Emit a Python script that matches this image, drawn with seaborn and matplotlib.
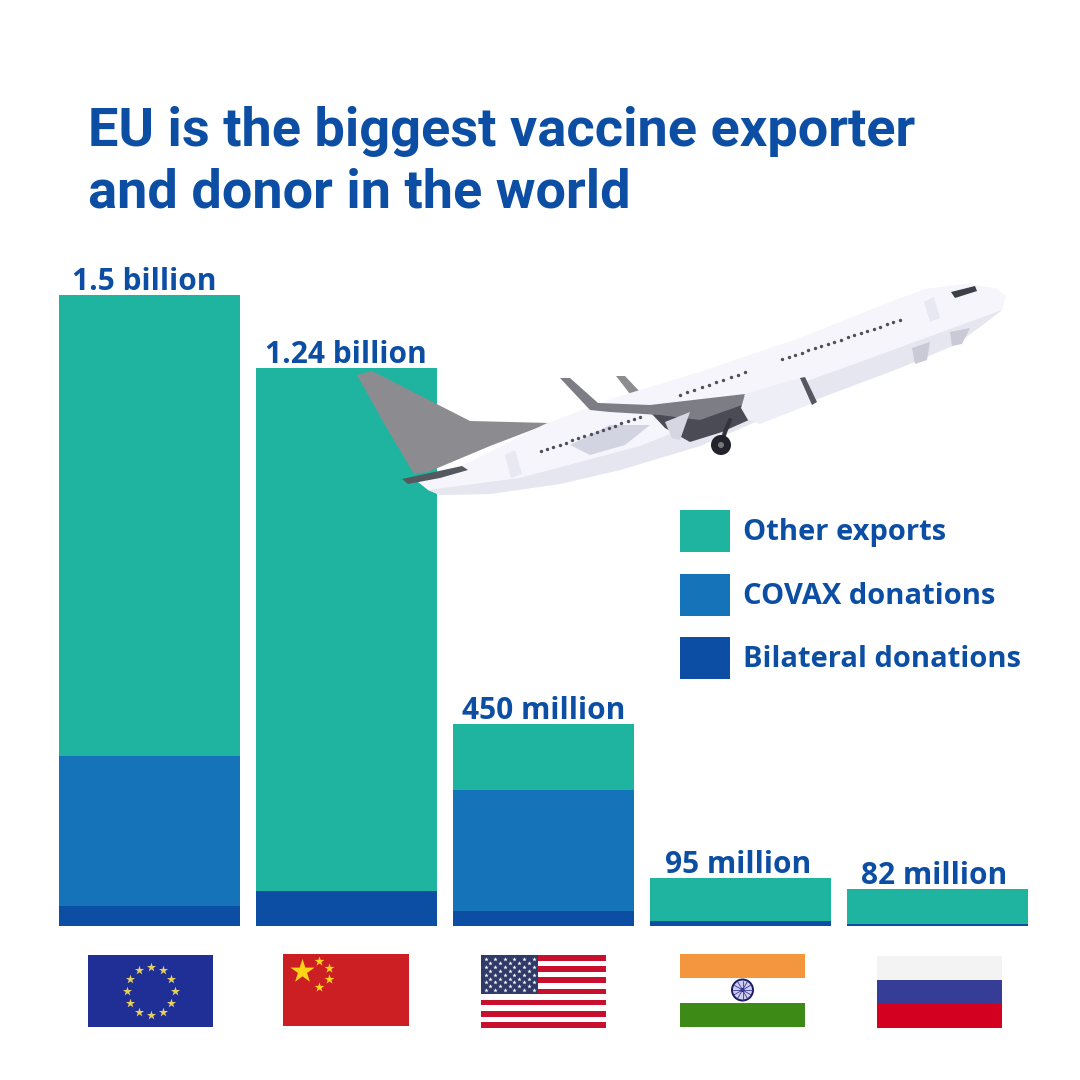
import numpy as np
import matplotlib
matplotlib.use("Agg")
import matplotlib.pyplot as plt
from matplotlib.patches import Patch, Polygon, Rectangle, Circle
import seaborn as sns

# ---------- data (millions of doses) ----------
countries = ["EU", "China", "USA", "India", "Russia"]
bilateral = [48, 83, 36, 12, 5]
covax = [357, 0, 288, 0, 0]
other_exports = [1095, 1243, 156, 102, 83]
value_labels = ["1.5 billion", "1.24 billion", "450 million", "95 million", "82 million"]
legend_labels = ["Other exports", "COVAX donations", "Bilateral donations"]
title_lines = ["EU is the biggest vaccine exporter", "and donor in the world"]

C_OTHER, C_COVAX, C_BILAT = "#1fb4a0", "#1573ba", "#0c4ea3"
TXT = "#0c4ea3"
FONT = "Roboto"
FONT2 = "Open Sans"

sns.set_theme(style="white")
plt.rcParams["font.family"] = [FONT, "DejaVu Sans"]
plt.rcParams["font.weight"] = "bold"

W = H = 1080
fig = plt.figure(figsize=(10.8, 10.8), dpi=100, facecolor="white")

# ---------- bars ----------
ax = fig.add_axes([51 / W, (H - 926) / H, 985 / W, 726 / H])
bil = np.array(bilateral, float)
cov = np.array(covax, float)
oth = np.array(other_exports, float)
bar_kw = dict(saturation=1, width=0.919, linewidth=0, ax=ax)
sns.barplot(x=countries, y=bil, color=C_BILAT, **bar_kw)
sns.barplot(x=countries, y=cov, bottom=bil, color=C_COVAX, **bar_kw)
sns.barplot(x=countries, y=oth, bottom=bil + cov, color=C_OTHER, **bar_kw)
ax.set_xlim(-0.5, 4.5)
ax.set_ylim(0, 1726)
ax.axis("off")

label_shift = [-5, -1, 0, -2, -3]
for i, (t, lab) in enumerate(zip(bil + cov + oth, value_labels)):
    ax.annotate(lab, (i, t), xytext=(label_shift[i] * 0.72, 3.6), textcoords="offset points",
                ha="center", va="baseline", fontsize=21.5, fontweight="bold", color=TXT,
                family=[FONT2, "DejaVu Sans"])

handles = [Patch(color=c, linewidth=0) for c in (C_OTHER, C_COVAX, C_BILAT)]
fs = 20.3
lfs = 21
px = lfs / 0.72
hh = 1.49 * 28.2 / 29.17  # swatch height of 42 px at this font size
ax.legend(handles, legend_labels, loc="upper left", bbox_to_anchor=(680 / W, (H - 510) / H),
          bbox_transform=fig.transFigure, frameon=False, labelcolor=TXT,
          prop={"family": [FONT2, "DejaVu Sans"], "weight": "bold", "size": lfs},
          handlelength=50 / px, handleheight=(42 / px - 0.245) / 0.65, labelspacing=(63.5 - 42) / px,
          handletextpad=13 / px, borderpad=0, borderaxespad=0)

# ---------- decoration overlay in pixel coordinates ----------
ov = fig.add_axes([0, 0, 1, 1], zorder=5)
ov.set_xlim(0, W)
ov.set_ylim(H, 0)
ov.axis("off")
ov.patch.set_alpha(0)

for i, line in enumerate(title_lines):
    ov.text(88, 146 + i * 61, line, fontsize=39, fontweight="bold", color=TXT, ha="left", va="baseline")


def poly(pts, c, z=6, **k):
    ov.add_patch(Polygon(pts, closed=True, facecolor=c, edgecolor="none", zorder=z, **k))


def rect(x0, y0, x1, y1, c, z=6):
    ov.add_patch(Rectangle((x0, y0), x1 - x0, y1 - y0, facecolor=c, edgecolor="none", zorder=z))


# EU flag
rect(88, 955, 213, 1027, "#1f2f95")
a = np.deg2rad(np.arange(0, 360, 30))
ov.scatter(150.5 + 24 * np.cos(a), 991 + 24 * np.sin(a), marker="*", s=48, c="#e8d060", linewidths=0, zorder=7)
# China flag
rect(283, 954, 409, 1026, "#cb1f23")
ov.scatter([302], [971], marker="*", s=330, c="#fcd517", linewidths=0, zorder=7)
ov.scatter([319, 329, 329, 319], [961, 968, 979, 987], marker="*", s=55, c="#fcd517", linewidths=0, zorder=7)
# US flag
for k in range(7):
    rect(481, 955 + k * 11.2, 606, 955 + k * 11.2 + 5.6, "#c8102e")
rect(481, 955, 538, 994, "#2f3a68", z=7)
xs, ys = [], []
for r in range(9):
    n = 6 if r % 2 == 0 else 5
    for c in range(n):
        xs.append(485.5 + c * 9.6 + (0 if r % 2 == 0 else 4.8))
        ys.append(959 + r * 3.9)
ov.scatter(xs, ys, marker="*", s=11, c="white", linewidths=0, zorder=8)
# India flag
rect(680, 954, 805, 978, "#f4963e")
rect(680, 1003, 805, 1027, "#3e8a17")
ov.add_patch(Circle((742.5, 990), 10.5, facecolor="#cfcdf0", edgecolor="#1b1b60", linewidth=1.4, zorder=7))
ov.add_patch(Circle((742.5, 990), 2, facecolor="#1b1b60", edgecolor="none", zorder=8))
for t in np.deg2rad(np.arange(0, 360, 30)):
    ov.plot([742.5, 742.5 + 9.5 * np.cos(t)], [990, 990 + 9.5 * np.sin(t)], color="#3a3a9a", lw=0.6, zorder=8)
# Russia flag
rect(877, 956, 1002, 980, "#f3f3f3")
rect(877, 980, 1002, 1004, "#353d96")
rect(877, 1004, 1002, 1028, "#d4001f")

# Aeroplane
GREY = "#8c8c90"
poly([(357, 375), (372, 371), (470, 421), (550, 423), (490, 446), (428, 472), (414, 474), (385, 425)], GREY, 6)
poly([(616, 376), (625, 376), (640, 392), (630, 394)], GREY, 6)
# fuselage
poly([(418, 482), (470, 462), (545, 424), (620, 396), (700, 372), (800, 338), (880, 306), (925, 289),
      (965, 284), (995, 288), (1006, 296), (1002, 310), (980, 327), (955, 345), (900, 368), (815, 400),
      (760, 420), (700, 446), (620, 470), (560, 484), (490, 494), (440, 495), (428, 490)], "#f5f5fb", 7)
# belly shade
poly([(428, 490), (520, 478), (640, 446), (760, 398), (860, 362), (1002, 310), (980, 327), (955, 345),
      (900, 368), (815, 400), (760, 420), (700, 446), (620, 470), (560, 484), (490, 494), (440, 495)], "#e6e6f0", 7)
# swoosh on tail section
poly([(570, 445), (610, 425), (650, 425), (625, 445), (590, 455)], "#d3d4e2", 8)
# near-side stabiliser
poly([(402, 479), (462, 466), (468, 470), (440, 478), (408, 484)], "#55585f", 9)
# wing
poly([(560, 378), (570, 378), (598, 403), (650, 405), (745, 394), (742, 405), (700, 420), (660, 415),
      (610, 412), (590, 410)], "#7c7d85", 9)
poly([(650, 412), (745, 396), (760, 415), (722, 432), (690, 442), (665, 428)], "#4a4b55", 8)
poly([(665, 422), (690, 412), (680, 440), (672, 438)], "#d5d6e2", 9)
# engine
poly([(745, 394), (800, 378), (816, 402), (760, 424), (748, 420), (741, 408)], "#eeeef6", 10)
poly([(800, 378), (805, 377), (817, 402), (812, 405)], "#55565f", 11)
# landing gear
ov.plot([730, 725, 722], [420, 432, 442], color="#33343c", lw=3, zorder=8)
ov.add_patch(Circle((721, 445), 10, facecolor="#22232b", edgecolor="none", zorder=9))
ov.add_patch(Circle((721, 445), 3, facecolor="#777", edgecolor="none", zorder=10))
# windows
for (x0, y0, x1, y1, n) in [(541, 451, 640, 417, 17), (680, 395, 745, 372, 10), (782, 359, 900, 320, 19)]:
    ov.scatter(np.linspace(x0, x1, n), np.linspace(y0, y1, n), s=6, c="#4d4f5c", linewidths=0, zorder=9)
# cockpit
poly([(951, 292), (975, 286), (977, 291), (955, 298)], "#3d3f48", 9)
# doors
poly([(924, 302), (934, 297), (940, 318), (930, 322)], "#e8e8f2", 9)
poly([(505, 455), (515, 450), (522, 474), (511, 478)], "#e8e8f2", 9)
# flap fairings under nose
poly([(950, 332), (970, 328), (962, 344), (952, 346)], "#c9cad6", 8)
poly([(912, 348), (930, 342), (927, 360), (915, 364)], "#c9cad6", 8)

fig.savefig("out.png", dpi=100, facecolor="white")
